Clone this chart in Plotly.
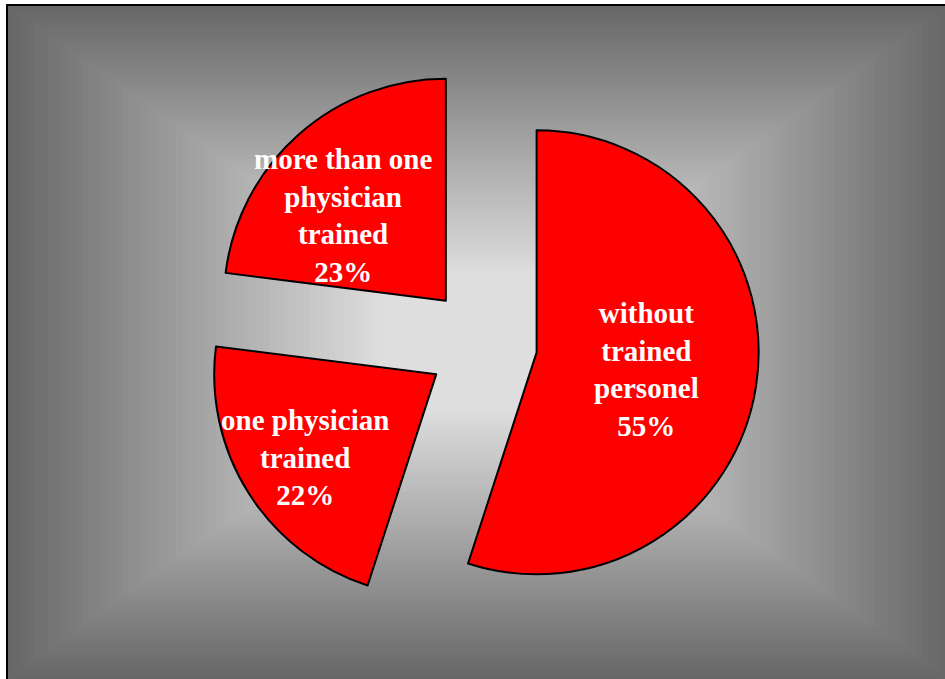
import math
import plotly.graph_objects as go

# ---- data -------------------------------------------------------------
categories = ["without trained personel",
              "one physician trained",
              "more than one physician trained"]
label_lines = ["without<br>trained<br>personel",
               "one physician<br>trained",
               "more than one<br>physician<br>trained"]
shares = [55, 22, 23]

# ---- layout constants (pixels) -----------------------------------------
W, H = 945, 679
pulls = [0.24, 0.255, 0.26]
pie_cx, pie_cy = 484, 344          # centre of the pie domain
radius = 222                       # slice radius
half = radius * (1 + max(pulls))   # plotly shrinks r by (1 + max pull)

label_radius = [0.50, 0.70, 0.60]  # label distance from slice apex (in radii)
label_turn = [0.0, 0.0, -9.0]      # angular nudge of label from slice bisector
label_font = dict(family="Liberation Serif", size=29, color="white")


def px_x(x):
    return x / W


def px_y(y):
    return 1 - y / H


fig = go.Figure()

fig.add_trace(go.Pie(
    labels=categories,
    values=shares,
    sort=False,
    direction="clockwise",
    rotation=0,
    pull=pulls,
    textinfo="none",
    hoverinfo="label+percent",
    showlegend=False,
    marker=dict(colors=["#ff0000"] * len(shares),
                line=dict(color="black", width=2)),
    domain=dict(x=[px_x(pie_cx - half), px_x(pie_cx + half)],
                y=[px_y(pie_cy + half), px_y(pie_cy - half)]),
))

# ---- labels placed along each slice's bisector -------------------------
total = sum(shares)
start = 0.0
annotations = []
for i, v in enumerate(shares):
    sweep = 360.0 * v / total
    mid = math.radians(start + sweep / 2)
    ax = pie_cx + pulls[i] * radius * math.sin(mid)
    ay = pie_cy - pulls[i] * radius * math.cos(mid)
    ang = mid + math.radians(label_turn[i])
    lx = ax + label_radius[i] * radius * math.sin(ang)
    ly = ay - label_radius[i] * radius * math.cos(ang)
    pct = round(100 * v / total)
    annotations.append(dict(
        x=px_x(lx), y=px_y(ly), xref="paper", yref="paper",
        xanchor="center", yanchor="middle", showarrow=False,
        text=f"<b>{label_lines[i]}<br>{pct}%</b>",
        font=label_font, align="center",
    ))
    start += sweep

# ---- rectangular grey gradient backdrop --------------------------------
bg_cx, bg_cy = 478, 342
bg_hw, bg_hh = 471, 337
shapes = []
steps = 70
for k in range(steps):
    t = 1 - k / steps
    tm = t - 0.5 / steps
    g = int(round(min(222, 102 + (1 - tm) * 150)))
    col = f"rgb({g},{g},{g})"
    shapes.append(dict(
        type="rect", xref="paper", yref="paper", layer="below",
        x0=px_x(bg_cx - bg_hw * t), x1=px_x(bg_cx + bg_hw * t),
        y0=px_y(bg_cy + bg_hh * t), y1=px_y(bg_cy - bg_hh * t),
        fillcolor=col, line=dict(width=0),
    ))
# frame line along the top and left
shapes.append(dict(
    type="rect", xref="paper", yref="paper", layer="below",
    x0=px_x(7), x1=px_x(W + 10), y0=px_y(H + 10), y1=px_y(5),
    fillcolor="rgba(0,0,0,0)", line=dict(color="black", width=2),
))

fig.update_layout(
    width=W, height=H,
    margin=dict(l=0, r=0, t=0, b=0, pad=0),
    paper_bgcolor="white",
    plot_bgcolor="white",
    shapes=shapes,
    annotations=annotations,
)

fig.write_html("out.html")
